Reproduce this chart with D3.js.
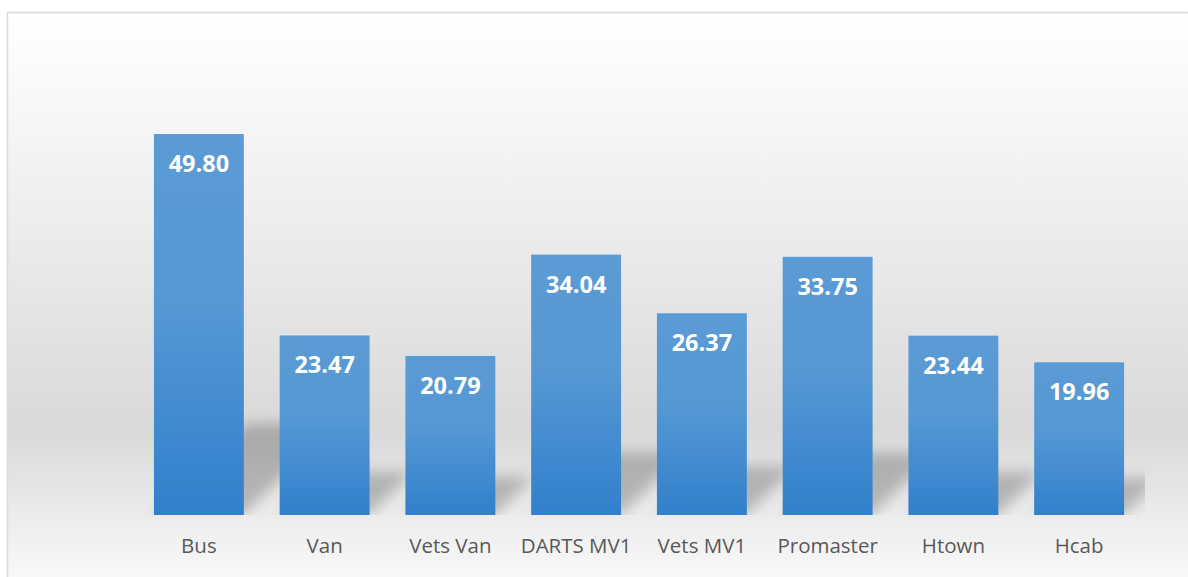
<!DOCTYPE html>
<html>
<head>
<meta charset="utf-8">
<script src="https://cdn.jsdelivr.net/npm/d3@7"></script>
<style>
    body { margin: 0; background: #fff; }
    svg { display: block; }
</style>
</head>
<body>
<div id="chart"></div>
<script>
var categories = ['Bus', 'Van', 'Vets Van', 'DARTS MV1', 'Vets MV1', 'Promaster', 'Htown', 'Hcab'];
var values = [49.80, 23.47, 20.79, 34.04, 26.37, 33.75, 23.44, 19.96];
var yDomain = [0, 60];

var width = 1188, height = 577,
    plot = {left: 136, right: 1142, top: 56, bottom: 515};

var svg = d3.select('#chart').append('svg')
    .attr('width', width)
    .attr('height', height);

var defs = svg.append('defs');

// chart area background: white -> grey -> white
var bg = defs.append('linearGradient').attr('id', 'bgGrad')
    .attr('x1', 0).attr('y1', 0).attr('x2', 0).attr('y2', 1);
bg.append('stop').attr('offset', '0%').attr('stop-color', '#ffffff');
bg.append('stop').attr('offset', '30%').attr('stop-color', '#f0f0f0');
bg.append('stop').attr('offset', '70%').attr('stop-color', '#d9d9d9');
bg.append('stop').attr('offset', '86%').attr('stop-color', '#eeeeee');
bg.append('stop').attr('offset', '100%').attr('stop-color', '#ffffff');

var barGrad = defs.append('linearGradient').attr('id', 'barGrad')
    .attr('x1', 0).attr('y1', 0).attr('x2', 0).attr('y2', 1);
barGrad.append('stop').attr('offset', '0%').attr('stop-color', '#5b9bd5');
barGrad.append('stop').attr('offset', '45%').attr('stop-color', '#5598d4');
barGrad.append('stop').attr('offset', '100%').attr('stop-color', '#3180cb');

defs.append('filter').attr('id', 'blur')
    .attr('x', '-50%').attr('y', '-50%').attr('width', '200%').attr('height', '200%')
    .append('feGaussianBlur').attr('stdDeviation', 7);

defs.append('clipPath').attr('id', 'plotClip')
    .append('rect')
    .attr('x', plot.left).attr('y', plot.top)
    .attr('width', plot.right + 3 - plot.left).attr('height', plot.bottom - plot.top);

svg.append('rect')
    .attr('x', 7.5).attr('y', 12.5)
    .attr('width', width + 20).attr('height', height + 20)
    .attr('fill', 'url(#bgGrad)')
    .attr('stroke', '#d9d9d9')
    .attr('stroke-width', 1.5);

var x = d3.scaleBand()
    .domain(categories)
    .range([plot.left, plot.right])
    .paddingInner(0.285)
    .paddingOuter(0.1425);

var y = d3.scaleLinear()
    .domain(yDomain)
    .range([plot.bottom, plot.top]);

// perspective shadow lying behind each bar
var shadowG = svg.append('g').attr('clip-path', 'url(#plotClip)')
    .append('g').attr('filter', 'url(#blur)');

shadowG.selectAll('path')
    .data(values)
    .enter().append('path')
    .attr('d', function(d, i) {
        var x0 = x(categories[i]), x1 = x0 + x.bandwidth(),
            b = y(0), h = y(0) - y(d),
            dy = h * 0.24, dx = dy * 1.0;
        return 'M' + x0 + ',' + b + 'L' + x1 + ',' + b +
            'L' + (x1 + dx) + ',' + (b - dy) + 'L' + (x0 + dx) + ',' + (b - dy) + 'Z';
    })
    .attr('fill', '#000')
    .attr('opacity', 0.22);

svg.append('g').selectAll('rect')
    .data(values)
    .enter().append('rect')
    .attr('x', function(d, i) { return x(categories[i]); })
    .attr('y', function(d) { return y(d); })
    .attr('width', x.bandwidth())
    .attr('height', function(d) { return y(0) - y(d); })
    .attr('fill', 'url(#barGrad)');

svg.append('g').selectAll('text')
    .data(values)
    .enter().append('text')
    .attr('x', function(d, i) { return x(categories[i]) + x.bandwidth() / 2; })
    .attr('y', function(d) { return y(d) + 38; })
    .attr('text-anchor', 'middle')
    .style('font-family', '"Open Sans", "Noto Sans", sans-serif')
    .style('font-weight', 'bold')
    .style('font-size', '23.5px')
    .style('fill', '#ffffff')
    .text(function(d) { return d.toFixed(2); });

var xAxis = svg.append('g')
    .attr('transform', 'translate(0,' + plot.bottom + ')')
    .call(d3.axisBottom(x).tickSize(0).tickPadding(23));
xAxis.select('.domain').remove();
xAxis.selectAll('text')
    .style('font-family', '"Open Sans", "Noto Sans", sans-serif')
    .style('font-size', '20.5px')
    .style('fill', '#595959');
</script>
</body>
</html>
